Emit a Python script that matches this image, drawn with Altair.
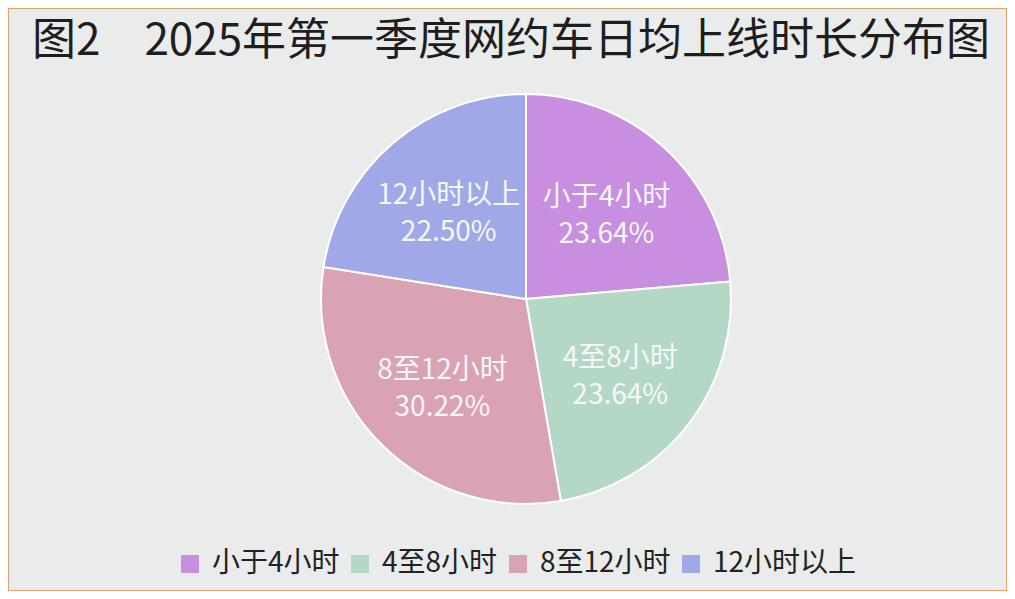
import altair as alt
import pandas as pd

title_text = "图2\u30002025年第一季度网约车日均上线时长分布图"
categories = ["小于4小时", "4至8小时", "8至12小时", "12小时以上"]
shares = [23.64, 23.64, 30.22, 22.50]
share_labels = ["23.64%", "23.64%", "30.22%", "22.50%"]
colors = ["#C88EE0", "#B4D7C6", "#DAA2B5", "#A0A8E8"]

FONT = "Noto Sans CJK SC"

df = pd.DataFrame({
    "cat": categories,
    "share": shares,
    "idx": list(range(len(categories))),
    "label": [c + "\n" + s for c, s in zip(categories, share_labels)],
})

W, H = 999, 583
CX, CY = 518, 291
R = 205

base = alt.Chart(df).encode(
    theta=alt.Theta("share:Q", stack=True),
    order=alt.Order("idx:Q"),
)

pie = base.mark_arc(outerRadius=R, stroke="white", strokeWidth=2).encode(
    x=alt.value(CX),
    y=alt.value(CY),
    color=alt.Color(
        "cat:N",
        sort=categories,
        scale=alt.Scale(domain=categories, range=colors),
        legend=alt.Legend(
            orient="none",
            legendX=168,
            legendY=542,
            direction="horizontal",
            columns=4,
            title=None,
            symbolType="square",
            symbolSize=324,
            symbolStrokeWidth=0,
            symbolOpacity=1,
            labelFontSize=28,
            labelFont=FONT,
            labelColor="#222222",
            labelOffset=8,
            columnPadding=6,
            labelLimit=400,
        ),
    ),
)

labels = base.mark_text(
    radius=119,
    dy=-13,
    fontSize=28,
    lineHeight=37,
    lineBreak="\n",
    color="#F7F7F7",
    font=FONT,
    align="center",
    baseline="middle",
).encode(
    x=alt.value(CX),
    y=alt.value(CY),
    text="label:N",
)

title = alt.Chart(pd.DataFrame({"t": [title_text]})).mark_text(
    align="left",
    baseline="middle",
    fontSize=44,
    font=FONT,
    color="#1E1E1E",
).encode(
    x=alt.value(24),
    y=alt.value(34),
    text="t:N",
)

chart = (
    alt.layer(pie, labels, title)
    .properties(width=W, height=H, padding=0, background="#EAEBEB")
    .configure_view(stroke="#E8A070", strokeWidth=2)
)

chart.save("out.html", embed_options={"renderer": "svg", "actions": False})
